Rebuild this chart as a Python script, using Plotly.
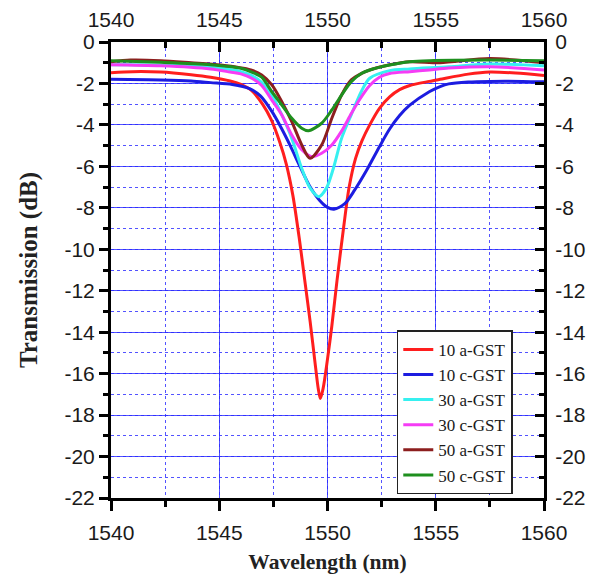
import plotly.graph_objects as go

# ---- data ----
wl_10a = [1540, 1541, 1542.3, 1543.7, 1544.6, 1545.5, 1546.0, 1546.5, 1547.0, 1547.4, 1547.8, 1548.1,
          1548.4, 1548.7, 1548.95, 1549.2, 1549.45, 1549.57, 1549.67, 1549.8, 1550.0, 1550.2, 1550.44,
          1550.75, 1551.0, 1551.3, 1551.6, 1551.95, 1552.4, 1552.87, 1553.33, 1553.8, 1554.7, 1555.2,
          1556.5, 1557.5, 1558.7, 1560]
t_10a = [-1.48, -1.43, -1.45, -1.58, -1.7, -1.88, -2.05, -2.35, -3.0, -3.75, -4.85, -5.9,
         -7.4, -9.5, -11.5, -13.5, -15.7, -16.7, -17.2, -16.7, -15.3, -13.7, -11.5,
         -8.9, -7.0, -5.6, -4.75, -4.0, -3.2, -2.65, -2.3, -2.1, -1.9, -1.8,
         -1.55, -1.45, -1.5, -1.62]

wl_10c = [1540, 1542.3, 1543.7, 1544.6, 1545.6, 1546.4, 1546.9, 1547.43, 1547.89, 1548.3, 1548.75, 1549.2,
          1549.64, 1550.0, 1550.3, 1550.8, 1551.25, 1551.8, 1552.4, 1552.87, 1553.33, 1553.8, 1554.7,
          1555.2, 1555.6, 1556.5, 1557.5, 1559.0, 1560]
t_10c = [-1.8, -1.83, -1.88, -1.96, -2.05, -2.25, -2.6, -3.35, -4.2, -5.05, -6.05, -7.0,
         -7.65, -7.98, -8.07, -7.8, -7.15, -6.2, -5.05, -4.2, -3.55, -3.05, -2.4,
         -2.15, -2.02, -1.93, -1.9, -1.9, -1.92]

wl_30a = [1540, 1542.3, 1544.6, 1545.5, 1546.0, 1546.5, 1546.96, 1547.43, 1547.89, 1548.35, 1548.81, 1549.2,
          1549.6, 1549.95, 1550.27, 1550.65, 1551.1, 1551.58, 1551.95, 1552.87, 1553.8, 1555.6, 1557.5, 1560]
t_30a = [-1.1, -1.11, -1.22, -1.33, -1.43, -1.62, -1.95, -2.56, -3.52, -4.65, -6.1, -7.05,
         -7.46, -7.05, -6.1, -4.65, -3.5, -2.35, -1.75, -1.38, -1.3, -1.2, -1.06, -1.15]

wl_30c = [1540, 1542.3, 1544.6, 1545.5, 1546.0, 1546.5, 1546.96, 1547.43, 1547.89, 1548.35, 1548.81, 1549.27,
          1549.73, 1550.2, 1550.65, 1551.1, 1551.5, 1551.95, 1552.4, 1552.87, 1553.8, 1554.7, 1555.6,
          1557.5, 1560]
t_30c = [-1.1, -1.15, -1.3, -1.45, -1.54, -1.75, -2.1, -2.8, -3.52, -4.49, -5.2, -5.53,
         -5.37, -4.97, -4.3, -3.45, -2.75, -2.1, -1.7, -1.52, -1.43, -1.35, -1.26,
         -1.19, -1.35]

wl_50a = [1540, 1540.9, 1542.3, 1543.7, 1545.07, 1546.46, 1546.96, 1547.43, 1547.89, 1548.35, 1548.81,
          1549.19, 1549.73, 1550.2, 1550.65, 1551.1, 1551.58, 1551.95, 1552.87, 1553.8, 1555.2, 1557.5, 1560]
t_50a = [-0.95, -0.87, -0.9, -1.0, -1.11, -1.35, -1.59, -2.07, -2.88, -3.84, -4.97,
         -5.61, -4.97, -3.68, -2.56, -1.83, -1.51, -1.35, -1.1, -0.95, -1.0, -0.8, -1.0]

wl_50c = [1540, 1542.3, 1544.6, 1546.0, 1546.5, 1546.96, 1547.43, 1547.89, 1548.35, 1548.81, 1549.12,
          1549.73, 1550.2, 1550.65, 1551.1, 1551.58, 1551.95, 1552.87, 1553.8, 1554.7, 1557.5, 1560]
t_50c = [-0.9, -0.98, -1.1, -1.27, -1.45, -1.7, -2.4, -3.04, -3.68, -4.16, -4.28,
         -3.92, -3.28, -2.56, -1.91, -1.51, -1.35, -1.11, -0.95, -0.9, -0.87, -0.9]

series_names = ["10 a-GST", "10 c-GST", "30 a-GST", "30 c-GST", "50 a-GST", "50 c-GST"]
series_x = [wl_10a, wl_10c, wl_30a, wl_30c, wl_50a, wl_50c]
series_y = [t_10a, t_10c, t_30a, t_30c, t_50a, t_50c]
colors = ["#FF1E1E", "#1C1CE0", "#36F0F0", "#F53CF5", "#8C1E1E", "#1E8F1E"]

x_tick_vals = [1540, 1545, 1550, 1555, 1560]
x_tick_text = ["1540", "1545", "1550", "1555", "1560"]
y_tick_vals = [0, -2, -4, -6, -8, -10, -12, -14, -16, -18, -20, -22]
y_tick_text = ["0", "-2", "-4", "-6", "-8", "-10", "-12", "-14", "-16", "-18", "-20", "-22"]

fig = go.Figure()
for name, xs, ys, c in zip(series_names, series_x, series_y, colors):
    fig.add_trace(go.Scatter(x=xs, y=ys, name=name, mode="lines",
                             line=dict(color=c, width=3, shape="spline", smoothing=0.8)))

# invisible trace to carry top / right axes
fig.add_trace(go.Scatter(x=[1540, 1560], y=[0, -22], xaxis="x2", yaxis="y2", mode="lines",
                         line=dict(width=0), opacity=0, showlegend=False, hoverinfo="skip"))

tick_font = dict(family="Liberation Sans, Arial, sans-serif", size=21, color="#1a1a1a")
serif = "Liberation Serif, Times New Roman, serif"
grid_major = "rgba(40,40,255,0.8)"
grid_minor = "rgba(40,40,255,0.8)"

fig.update_layout(
    width=595, height=583,
    margin=dict(l=111, r=51, t=42, b=85, autoexpand=False),
    paper_bgcolor="white", plot_bgcolor="white",
    showlegend=True,
    legend=dict(x=0.66, y=0.008, xanchor="left", yanchor="bottom",
                bordercolor="#222", borderwidth=1.5, bgcolor="white",
                font=dict(family=serif, size=17, color="#1a1a1a"),
                tracegroupgap=0),
    xaxis=dict(range=[1540, 1560], tickvals=x_tick_vals, ticktext=x_tick_text,
               ticks="outside", ticklen=10, tickwidth=3, tickcolor="black",
               showline=True, linewidth=3, linecolor="black", automargin=False,
               showgrid=True, gridcolor=grid_major, gridwidth=1,
               minor=dict(dtick=2.5, ticks="outside", ticklen=6, tickwidth=3, tickcolor="black",
                          showgrid=True, gridcolor=grid_minor, griddash="dot", gridwidth=1),
               tickfont=tick_font, zeroline=False, ticklabelstandoff=4,
               title=dict(text="<b>Wavelength (nm)</b>", standoff=11,
                          font=dict(family=serif, size=21.5, color="#222"))),
    yaxis=dict(range=[-22, 0], tickvals=y_tick_vals, ticktext=y_tick_text,
               ticks="outside", ticklen=9, tickwidth=3, tickcolor="black",
               showline=True, linewidth=3, linecolor="black", automargin=False,
               showgrid=True, gridcolor=grid_major, gridwidth=1,
               minor=dict(dtick=1, ticks="outside", ticklen=5, tickwidth=3, tickcolor="black",
                          showgrid=True, gridcolor=grid_minor, griddash="dot", gridwidth=1),
               tickfont=tick_font, zeroline=False,
               title=dict(text="<b>Transmission (dB)</b>", standoff=20,
                          font=dict(family=serif, size=25, color="#222"))),
    xaxis2=dict(range=[1540, 1560], overlaying="x", side="top", anchor="y", automargin=False,
                tickvals=x_tick_vals, ticktext=x_tick_text,
                ticks="inside", ticklen=10, tickwidth=3, tickcolor="black",
                showline=True, linewidth=3, linecolor="black", showgrid=False, zeroline=False,
                minor=dict(dtick=2.5, ticks="inside", ticklen=6, tickwidth=3, tickcolor="black", showgrid=False),
                tickfont=tick_font, ticklabelstandoff=4),
    yaxis2=dict(range=[-22, 0], overlaying="y", side="right", anchor="x", automargin=False,
                tickvals=y_tick_vals, ticktext=y_tick_text,
                ticks="inside", ticklen=9, tickwidth=3, tickcolor="black",
                showline=True, linewidth=3, linecolor="black", showgrid=False, zeroline=False,
                minor=dict(dtick=1, ticks="inside", ticklen=5, tickwidth=3, tickcolor="black", showgrid=False),
                tickfont=tick_font, ticklabelstandoff=4),
)

fig.write_html("out.html")
